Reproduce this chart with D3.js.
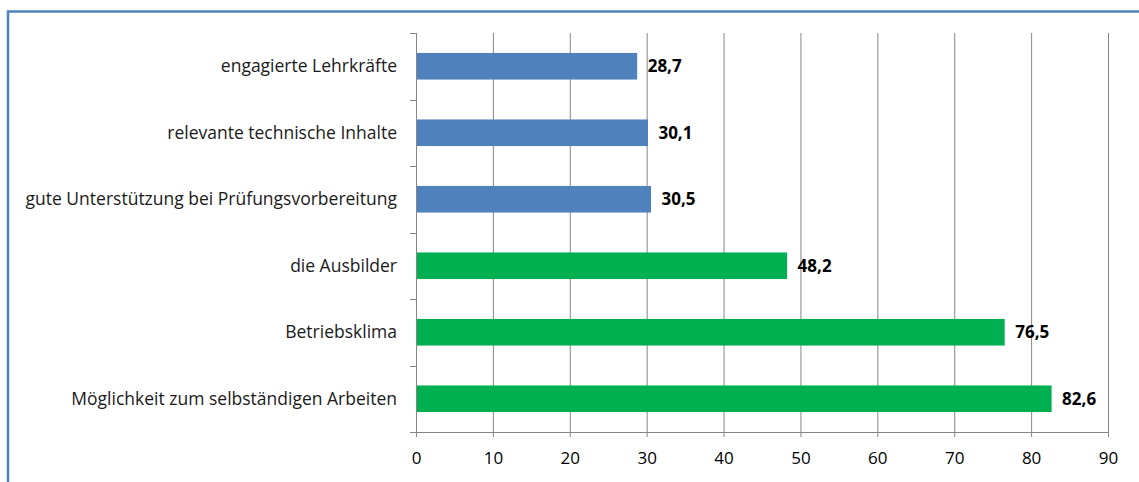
<!DOCTYPE html>
<html><head><meta charset="utf-8">
<script src="https://cdn.jsdelivr.net/npm/d3@7"></script>
<style>body{margin:0;background:#fff;} svg{display:block;}</style>
</head><body>
<svg id="c" width="1139" height="482"></svg>
<script>
const categories = ["engagierte Lehrkräfte","relevante technische Inhalte","gute Unterstützung bei Prüfungsvorbereitung","die Ausbilder","Betriebsklima","Möglichkeit zum selbständigen Arbeiten"];
const values = [28.7, 30.1, 30.5, 48.2, 76.5, 82.6];
const groups = ["Schule","Schule","Schule","Betrieb","Betrieb","Betrieb"];
const xTicks = [0,10,20,30,40,50,60,70,80,90];
const groupColors = {Schule:"#4F81BD", Betrieb:"#00B050"};

const svg = d3.select("#c");
const font = "'Open Sans', sans-serif";
// frame
svg.append("path").attr("d","M8,482 L8,11.5 L1139,11.5").attr("fill","none").attr("stroke","#4F81BD").attr("stroke-width",2.5);

const x = d3.scaleLinear().domain([0,90]).range([416,1108]);
const y = d3.scaleBand().domain(categories).range([33,432]).paddingInner(0.6).paddingOuter(0.3);
const yb = d3.scaleBand().domain(categories).range([33,432]);

// gridlines
svg.append("g").selectAll("line").data(xTicks.slice(1)).join("line")
  .attr("x1",d=>x(d)+0.5).attr("x2",d=>x(d)+0.5).attr("y1",33).attr("y2",432)
  .attr("stroke","#868686").attr("stroke-width",1);

// bars
svg.append("g").selectAll("rect").data(categories).join("rect")
  .attr("x",x(0)+0.5).attr("y",d=>y(d))
  .attr("width",(d,i)=>x(values[i])-x(0)).attr("height",y.bandwidth())
  .attr("fill",(d,i)=>groupColors[groups[i]]);

// y axis line + ticks
const ya = svg.append("g");
ya.append("line").attr("x1",x(0)+0.5).attr("x2",x(0)+0.5).attr("y1",33).attr("y2",432).attr("stroke","#868686");
const bounds = categories.map(c=>yb(c)).concat([432]);
ya.selectAll("line.t").data(bounds).join("line").attr("class","t")
  .attr("x1",410).attr("x2",416).attr("y1",d=>Math.round(d)+0.5).attr("y2",d=>Math.round(d)+0.5).attr("stroke","#868686");

// x axis
const xa = svg.append("g").attr("transform","translate(0,432)")
  .call(d3.axisBottom(x).tickValues(xTicks).tickSize(5).tickPadding(15).tickFormat(d3.format("d")));
xa.select(".domain").attr("stroke","#868686").attr("d","M410,0.5H1108.5");
xa.selectAll(".tick line").attr("stroke","#868686");
xa.selectAll("text").attr("font-family",font).attr("font-size",17).attr("fill","#000");

// category labels
svg.append("g").selectAll("text").data(categories).join("text")
  .attr("x",397).attr("y",d=>yb(d)+yb.bandwidth()/2).attr("dy","0.35em")
  .attr("text-anchor","end").attr("font-family",font).attr("font-size",17.5).attr("fill","#1a1a1a")
  .text(d=>d);

// value labels
svg.append("g").selectAll("text").data(categories).join("text")
  .attr("x",(d,i)=>x(values[i])+11).attr("y",d=>yb(d)+yb.bandwidth()/2).attr("dy","0.35em")
  .attr("font-family",font).attr("font-size",17).attr("font-weight","bold").attr("fill","#000")
  .text((d,i)=>d3.format(".1f")(values[i]).replace(".",","));
</script>
</body></html>
